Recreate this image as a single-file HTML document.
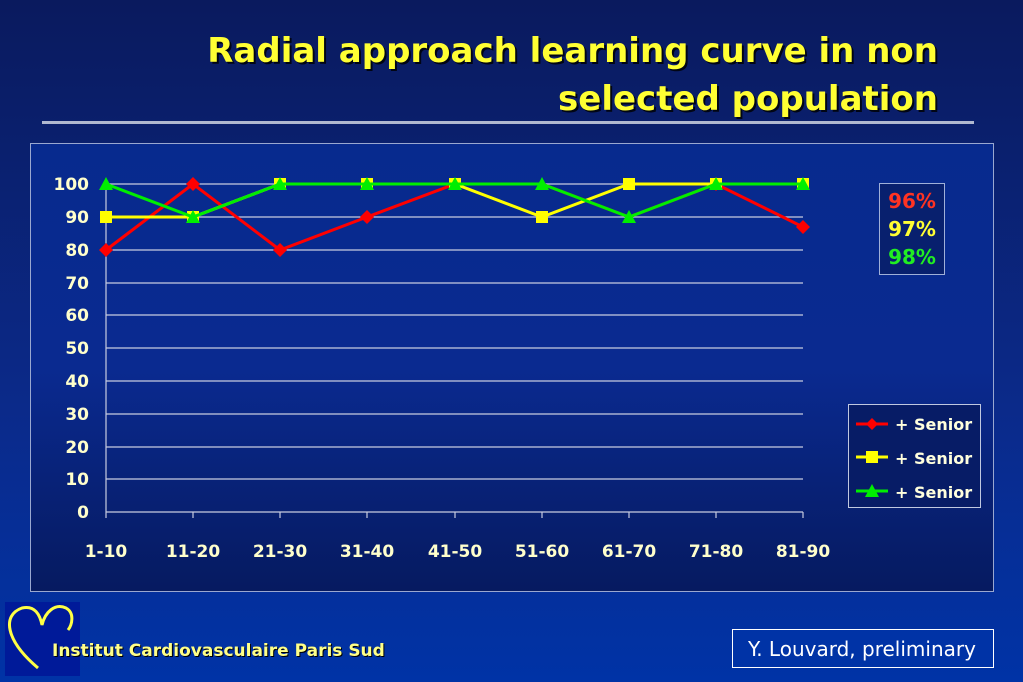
<!DOCTYPE html>
<html><head><style>
body{margin:0;width:1023px;height:682px;overflow:hidden;background:linear-gradient(#0a1a5e,#0b2a8a 60%,#0033a6);font-family:"Comic Sans MS","DejaVu Sans",sans-serif}
</style></head><body>
<svg width="1023" height="682" xmlns="http://www.w3.org/2000/svg" style="position:absolute;left:0;top:0">
<defs>
<linearGradient id="g" x1="0" y1="0" x2="0" y2="1"><stop offset="0" stop-color="#072a8e"/><stop offset="0.5" stop-color="#0a2a90"/><stop offset="1" stop-color="#061a60"/></linearGradient>
</defs>
<g font-family="DejaVu Sans, sans-serif" font-weight="bold" font-size="34" fill="#ffff33" text-anchor="end">
<text x="940" y="64" fill="#000" opacity="0.8">Radial approach learning curve in non</text>
<text x="938" y="62">Radial approach learning curve in non</text>
<text x="940" y="112" fill="#000" opacity="0.8">selected population</text>
<text x="938" y="110">selected population</text>
</g>
<rect x="42" y="121" width="932" height="3" fill="#b0b8d0"/>
<rect x="30.5" y="143.5" width="963" height="448" fill="url(#g)" stroke="#9aa8d0"/>
<g stroke="#c8cce0" stroke-width="1.2">
<line x1="106" x2="803" y1="184" y2="184"/><line x1="106" x2="803" y1="217" y2="217"/><line x1="106" x2="803" y1="250" y2="250"/><line x1="106" x2="803" y1="283" y2="283"/><line x1="106" x2="803" y1="315" y2="315"/><line x1="106" x2="803" y1="348" y2="348"/><line x1="106" x2="803" y1="381" y2="381"/><line x1="106" x2="803" y1="414" y2="414"/><line x1="106" x2="803" y1="447" y2="447"/><line x1="106" x2="803" y1="479" y2="479"/><line x1="106" x2="803" y1="512" y2="512"/>
<line x1="106" x2="106" y1="184" y2="518"/>
<line x1="193" x2="193" y1="512" y2="518"/><line x1="280" x2="280" y1="512" y2="518"/><line x1="367" x2="367" y1="512" y2="518"/><line x1="455" x2="455" y1="512" y2="518"/><line x1="542" x2="542" y1="512" y2="518"/><line x1="629" x2="629" y1="512" y2="518"/><line x1="716" x2="716" y1="512" y2="518"/><line x1="803" x2="803" y1="512" y2="518"/>
</g>
<g font-family="DejaVu Sans, sans-serif" font-weight="bold" font-size="17" fill="#ffffcc" text-anchor="end">
<text x="89" y="190">100</text><text x="89" y="223">90</text><text x="89" y="256">80</text><text x="89" y="289">70</text><text x="89" y="321">60</text><text x="89" y="354">50</text><text x="89" y="387">40</text><text x="89" y="420">30</text><text x="89" y="453">20</text><text x="89" y="485">10</text><text x="89" y="518">0</text>
</g>
<g font-family="DejaVu Sans, sans-serif" font-weight="bold" font-size="17" fill="#ffffcc" text-anchor="middle">
<text x="106" y="557">1-10</text><text x="193" y="557">11-20</text><text x="280" y="557">21-30</text><text x="367" y="557">31-40</text><text x="455" y="557">41-50</text><text x="542" y="557">51-60</text><text x="629" y="557">61-70</text><text x="716" y="557">71-80</text><text x="803" y="557">81-90</text>
</g>
<polyline fill="none" stroke="#ff0000" stroke-width="3" points="106,250 193,184 280,250 367,217 455,184 542,184 629,217 716,184 803,227"/>
<g fill="#ff0000">
<polygon points="106,243 113,250 106,257 99,250"/><polygon points="193,177 200,184 193,191 186,184"/><polygon points="280,243 287,250 280,257 273,250"/><polygon points="367,210 374,217 367,224 360,217"/><polygon points="716,177 723,184 716,191 709,184"/><polygon points="803,220 810,227 803,234 796,227"/>
</g>
<polyline fill="none" stroke="#ffff00" stroke-width="3" points="106,217 193,217 280,184 367,184 455,184 542,217 629,184 716,184 803,184"/>
<g fill="#ffff00">
<rect x="100" y="211" width="12" height="12"/><rect x="187" y="211" width="12" height="12"/><rect x="274" y="178" width="12" height="12"/><rect x="361" y="178" width="12" height="12"/><rect x="449" y="178" width="12" height="12"/><rect x="536" y="211" width="12" height="12"/><rect x="623" y="178" width="12" height="12"/><rect x="710" y="178" width="12" height="12"/><rect x="797" y="178" width="12" height="12"/>
</g>
<polyline fill="none" stroke="#00ee00" stroke-width="3" points="106,184 193,217 280,184 367,184 455,184 542,184 629,217 716,184 803,184"/>
<g fill="#00ee00">
<polygon points="106,177 113,190 99,190"/><polygon points="193,210 200,223 186,223"/><polygon points="280,177 287,190 273,190"/><polygon points="367,177 374,190 360,190"/><polygon points="455,177 462,190 448,190"/><polygon points="542,177 549,190 535,190"/><polygon points="629,210 636,223 622,223"/><polygon points="716,177 723,190 709,190"/><polygon points="803,177 810,190 796,190"/>
</g>
<rect x="879.5" y="183.5" width="65" height="91" fill="#08206e" stroke="#a0b0d8"/>
<g font-family="DejaVu Sans, sans-serif" font-weight="bold" font-size="20" text-anchor="middle">
<text x="912" y="208" fill="#ff3322">96%</text><text x="912" y="236" fill="#ffff33">97%</text><text x="912" y="264" fill="#22ee22">98%</text>
</g>
<rect x="848.5" y="404.5" width="132" height="103" fill="#071c66" stroke="#c0c8e0"/>
<line x1="856" x2="888" y1="424" y2="424" stroke="#ff0000" stroke-width="3"/><polygon points="872,418 878,424 872,430 866,424" fill="#ff0000"/>
<line x1="856" x2="888" y1="457" y2="457" stroke="#ffff00" stroke-width="3"/><rect x="866" y="451" width="12" height="12" fill="#ffff00"/>
<line x1="856" x2="888" y1="491" y2="491" stroke="#00ee00" stroke-width="3"/><polygon points="872,484 879,497 865,497" fill="#00ee00"/>
<g font-family="DejaVu Sans, sans-serif" font-weight="bold" font-size="16" fill="#ffffdd">
<text x="895" y="430">+ Senior</text><text x="895" y="464">+ Senior</text><text x="895" y="498">+ Senior</text>
</g>
<rect x="5" y="602" width="75" height="74" fill="#001a99"/>
<path d="M38,668 C5,640 2,615 22,608 C35,605 40,615 42,625 C45,612 55,603 66,608 C75,613 72,625 68,630" fill="none" stroke="#ffff44" stroke-width="3"/>
<g font-family="DejaVu Sans, sans-serif" font-weight="bold" font-size="17">
<text x="53" y="657" fill="#000">Institut Cardiovasculaire Paris Sud</text>
<text x="52" y="656" fill="#ffff88">Institut Cardiovasculaire Paris Sud</text>
</g>
<rect x="732.5" y="629.5" width="261" height="38" fill="#0033a6" stroke="#ffffff"/>
<text x="862" y="656" font-family="DejaVu Sans, sans-serif" font-size="20" fill="#ffffff" text-anchor="middle">Y. Louvard, preliminary</text>
</svg>
</body></html>
